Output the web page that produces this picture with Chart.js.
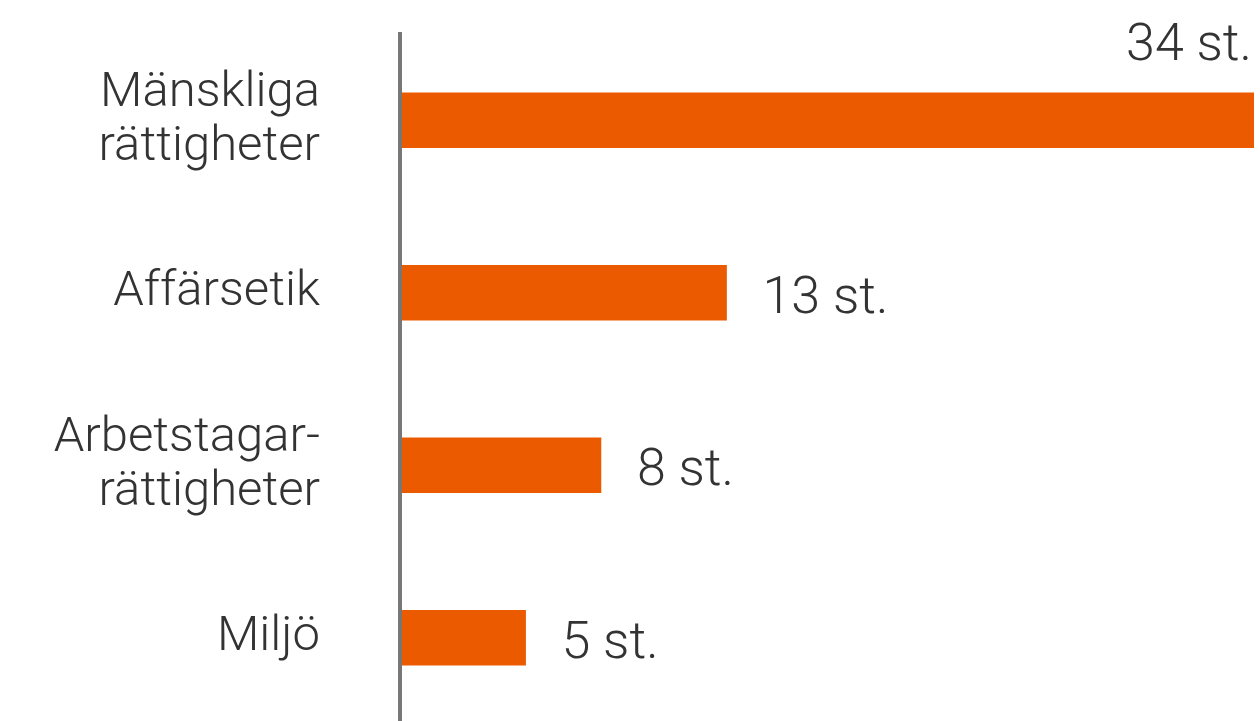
<!DOCTYPE html>
<html>
<head>
<meta charset="utf-8">
<script src="https://cdn.jsdelivr.net/npm/chart.js@4/dist/chart.umd.min.js"></script>
<style>
  html, body { margin: 0; padding: 0; background: #ffffff; overflow: hidden; }
  #wrap { width: 1260px; height: 721px; overflow: hidden; }
  canvas { display: block; }
</style>
</head>
<body>
<div id="wrap"><canvas id="c" width="1260" height="725"></canvas></div>
<script>
const categories = [
  ['Mänskliga', 'rättigheter'],
  ['Affärsetik'],
  ['Arbetstagar-', 'rättigheter'],
  ['Miljö']
];
const values = [34, 13, 8, 5];
const unitSuffix = ' st.';
const axisMax = 34;

const FONT = 'Roboto, "DejaVu Sans", sans-serif';
const TEXT = '#333333';

const valueLabels = {
  id: 'valueLabels',
  afterDatasetsDraw(chart) {
    const ctx = chart.ctx;
    const meta = chart.getDatasetMeta(0);
    const area = chart.chartArea;
    ctx.save();
    ctx.font = '300 52px ' + FONT;
    ctx.fillStyle = TEXT;
    ctx.textBaseline = 'alphabetic';
    meta.data.forEach((bar, i) => {
      const txt = values[i] + unitSuffix;
      const w = ctx.measureText(txt).width;
      const top = bar.y - bar.height / 2;
      if (bar.x + 36 + w > area.right + 4) {
        ctx.textAlign = 'right';
        ctx.fillText(txt, area.right - 2, top - 33);
      } else {
        ctx.textAlign = 'left';
        ctx.fillText(txt, bar.x + 36, bar.y + 20);
      }
    });
    ctx.restore();
  }
};

new Chart(document.getElementById('c'), {
  type: 'bar',
  data: {
    labels: categories,
    datasets: [{
      data: values,
      backgroundColor: '#ec5a00',
      borderWidth: 0,
      barThickness: 55
    }]
  },
  options: {
    indexAxis: 'y',
    responsive: false,
    animation: false,
    layout: { padding: { top: 34, right: 6, bottom: 1, left: 0 } },
    plugins: { legend: { display: false }, tooltip: { enabled: false } },
    scales: {
      x: { display: false, min: 0, max: axisMax },
      y: {
        afterFit(scale) { scale.width = 400; scale.paddingTop = 0; scale.paddingBottom = 0; },
        grid: { display: false, drawTicks: false },
        border: { display: true, color: '#777777', width: 4, z: 1 },
        ticks: {
          padding: 80,
          color: TEXT,
          font: { family: FONT, size: 49, weight: 300, lineHeight: '54px' }
        }
      }
    }
  },
  plugins: [valueLabels]
});
</script>
</body>
</html>
